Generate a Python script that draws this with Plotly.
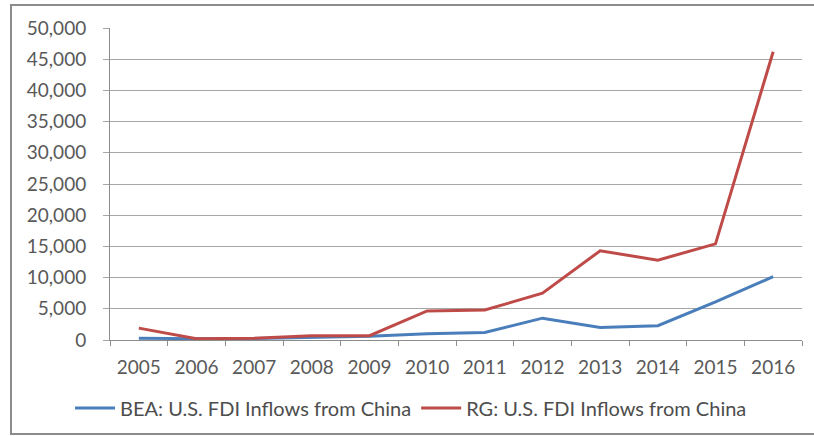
import plotly.graph_objects as go

# U.S. FDI inflows from China, USD millions
years = ["2005", "2006", "2007", "2008", "2009", "2010",
         "2011", "2012", "2013", "2014", "2015", "2016"]
bea_values = [300, 200, 250, 400, 600, 1000, 1200, 3500, 2000, 2300, 6100, 10150]
rg_values = [1900, 200, 300, 700, 700, 4650, 4800, 7500, 14300, 12800, 15400, 46200]
series_names = ["BEA: U.S. FDI Inflows from China", "RG: U.S. FDI Inflows from China"]
y_ticks = [0, 5000, 10000, 15000, 20000, 25000, 30000, 35000, 40000, 45000, 50000]

W, H = 814, 436
ML, MR, MT, MB = 110, 12, 28, 96
FONT = "Lato"
TEXT = "#595959"
GRID = "#a6a6a6"
AXIS = "#8c8c8c"

fig = go.Figure()
fig.add_trace(go.Scatter(x=years, y=bea_values, name=series_names[0], mode="lines",
                         line=dict(color="#4a7ebb", width=3)))
fig.add_trace(go.Scatter(x=years, y=rg_values, name=series_names[1], mode="lines",
                         line=dict(color="#be4b48", width=3)))

# outer chart frame (left and top edges visible)
pw = W - ML - MR
ph = H - MT - MB
def px_x(v):
    return (v - ML) / pw
def px_y(v):
    return (H - MB - v) / ph

fig.add_shape(type="rect", xref="paper", yref="paper",
              x0=px_x(11), x1=px_x(830), y0=px_y(434), y1=px_y(5),
              line=dict(color="#8c8c8c", width=2), layer="below")

fig.update_layout(
    width=W, height=H,
    margin=dict(l=ML, r=MR, t=MT, b=MB, autoexpand=False),
    paper_bgcolor="white", plot_bgcolor="white",
    font=dict(family=FONT, size=19, color=TEXT),
    showlegend=True,
    legend=dict(orientation="h", xref="container", yref="container",
                x=70 / W, xanchor="left", y=(H - 408) / H, yanchor="middle",
                font=dict(family=FONT, size=20, color="#4d4d4d"),
                itemwidth=40, bgcolor="rgba(0,0,0,0)", traceorder="normal"),
)

fig.update_xaxes(
    type="category", range=[-0.5, len(years) - 0.5],
    tickson="boundaries", ticks="outside", ticklen=5,
    tickcolor=AXIS, showline=True, linecolor=AXIS, linewidth=1,
    showgrid=False, ticklabelstandoff=10, automargin=False,
    tickfont=dict(family=FONT, size=19, color=TEXT),
)
fig.update_yaxes(
    range=[0, 50000], tickvals=y_ticks, tickformat=",", ticks="outside",
    ticklen=6, tickcolor=GRID, showline=True, linecolor=AXIS, linewidth=1,
    showgrid=True, gridcolor=GRID, gridwidth=1, zeroline=False,
    ticklabelstandoff=13, automargin=False,
    tickfont=dict(family=FONT, size=19, color=TEXT),
)

fig.write_html("out.html")
